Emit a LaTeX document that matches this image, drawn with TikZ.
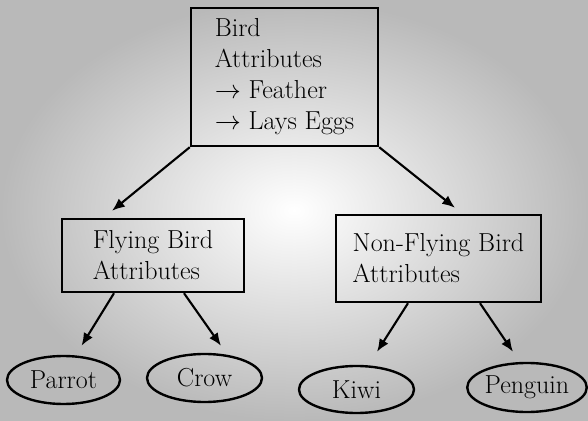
\documentclass[tikz,border=0pt]{standalone}
\usepackage{amssymb,amsmath}
\usepackage{fix-cm}
\usepackage{tikz}
\usetikzlibrary{shapes.geometric,arrows.meta,calc}

\begin{document}
\begin{tikzpicture}[x=0.025cm,y=-0.025cm,
  every node/.style={draw,line width=1.7pt,font=\fontsize{18.5}{22}\selectfont,inner sep=0pt},
  attrbox/.style={rectangle,align=left},
  bird/.style={ellipse,minimum height=1.2cm},
  link/.style={line width=1.5pt,-{Latex[length=3.2mm,width=2.6mm]}}]
\useasboundingbox (0,0) rectangle (588,421);
\shade[inner color=white,outer color=gray!55] (0,0) rectangle (588,421);

\node (b0) at (284.5,77) [attrbox,minimum width=4.675cm,minimum height=3.45cm]
  {Bird\\Attributes\\$\rightarrow$ Feather\\$\rightarrow$ Lays Eggs};
\node (f1) at (153,255.5) [attrbox,minimum width=4.55cm,minimum height=1.825cm]
  {Flying Bird\\Attributes};
\node (n1) at (438.5,258.5) [attrbox,minimum width=5.125cm,minimum height=2.175cm]
  {Non-Flying Bird\\Attributes};

\node (p1) at (63.5,380) [bird,minimum width=2.825cm] {Parrot};
\node (p2) at (204.5,378) [bird,minimum width=2.875cm] {Crow};
\node (p3) at (356.5,389.5) [bird,minimum width=2.875cm,minimum height=1.175cm] {Kiwi};
\node (p4) at (527,387.5) [bird,minimum width=2.65cm,minimum height=1.225cm] {Penguin};

\draw[link] (b0.south west) -- ([shift={(-41,-7)}]f1.north);
\draw[link] (b0.south east) -- ([shift={(16.5,-6)}]n1.north);
\draw[link] ([shift={(-39,0)}]f1.south) -- ([shift={(18,-9)}]p1.north);
\draw[link] ([shift={(31,0)}]f1.south) -- ([shift={(16.5,-7)}]p2.north);
\draw[link] ([shift={(-30.5,0)}]n1.south) -- ([shift={(20.5,-13)}]p3.north);
\draw[link] ([shift={(41.5,0)}]n1.south) -- ([shift={(-14,-10)}]p4.north);
\end{tikzpicture}
\end{document}
